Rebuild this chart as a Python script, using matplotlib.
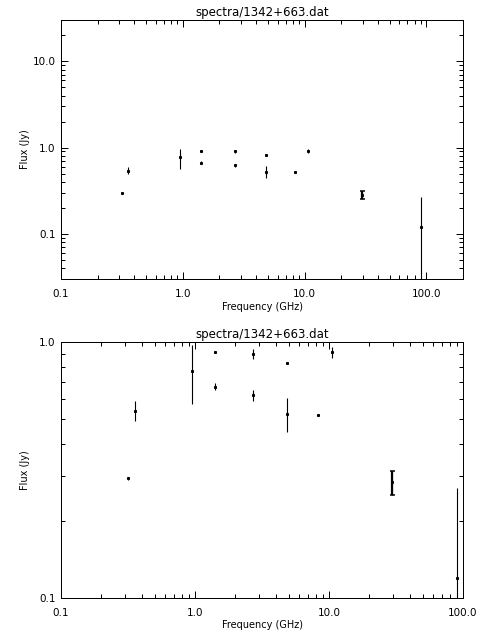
import matplotlib
matplotlib.use("Agg")
import matplotlib.pyplot as plt
from matplotlib.ticker import LogLocator, FixedLocator, FixedFormatter, NullFormatter
import numpy as np

title = "spectra/1342+663.dat"
freq = [0.318, 0.357, 0.955, 1.4, 1.4, 2.7, 2.7, 4.85, 4.85, 8.3, 10.6, 29.5, 90.0]
flux = [0.294, 0.54, 0.77, 0.91, 0.67, 0.90, 0.62, 0.83, 0.525, 0.517, 0.91, 0.283, 0.12]
err = [0.004, 0.05, 0.20, 0.005, 0.02, 0.04, 0.03, 0.005, 0.078, 0.005, 0.047, 0.03, 0.15]

x_ticks = [0.1, 1.0, 10.0, 100.0]
x_labels = ["0.1", "1.0", "10.0", "100.0"]
y_ticks_top = [0.1, 1.0, 10.0]
y_labels_top = ["0.1", "1.0", "10.0"]
y_ticks_bot = [0.1, 1.0]
y_labels_bot = ["0.1", "1.0"]

plt.rcParams['font.family'] = ['DejaVu Sans']
fig = plt.figure(figsize=(4.8, 6.4), dpi=100)

px = 0.72
def setup(ax, xlim, ylim, yt, yl):
    ax.set_xscale('log'); ax.set_yscale('log')
    ax.set_xlim(*xlim); ax.set_ylim(*ylim)
    ax.xaxis.set_major_locator(FixedLocator(x_ticks))
    ax.xaxis.set_major_formatter(FixedFormatter(x_labels))
    ax.xaxis.set_minor_locator(LogLocator(base=10, subs=np.arange(2, 10)))
    ax.xaxis.set_minor_formatter(NullFormatter())
    ax.yaxis.set_major_locator(FixedLocator(yt))
    ax.yaxis.set_major_formatter(FixedFormatter(yl))
    ax.yaxis.set_minor_locator(LogLocator(base=10, subs=np.arange(2, 10)))
    ax.yaxis.set_minor_formatter(NullFormatter())
    ax.tick_params(which='both', direction='in', top=True, right=True, width=1*px, labelsize=7.5, color='black')
    ax.tick_params(which='major', length=7*px)
    ax.tick_params(axis='x', which='major', pad=7)
    ax.tick_params(axis='y', which='major', pad=4)
    ax.tick_params(which='minor', length=4*px)
    for s in ax.spines.values():
        s.set_linewidth(1*px)
    ax.set_title(title, fontsize=8.5, pad=3)
    ax.set_xlabel("Frequency (GHz)", fontsize=7, labelpad=2)
    ax.set_ylabel("Flux (Jy)", fontsize=7)
    ax.yaxis.set_label_coords(-31/402, 0.5)
    ax.errorbar(freq, flux, yerr=err, fmt='s', color='black', markersize=1.2,
                elinewidth=1.1*px, capsize=0, ecolor='black', clip_on=True)
    ax.errorbar([freq[11]], [flux[11]], yerr=[err[11]], fmt='none', ecolor='black',
                elinewidth=2.2*px, capsize=1.8, capthick=1.5*px)

ax1 = fig.add_axes([61/480, 1-279/640, 402/480, 259/640])
setup(ax1, (0.1, 200), (0.03, 30), y_ticks_top, y_labels_top)
ax2 = fig.add_axes([61/480, 1-598/640, 402/480, 256/640])
setup(ax2, (0.1, 100), (0.1, 1.0), y_ticks_bot, y_labels_bot)

fig.savefig("out.png", dpi=100, facecolor='white')
